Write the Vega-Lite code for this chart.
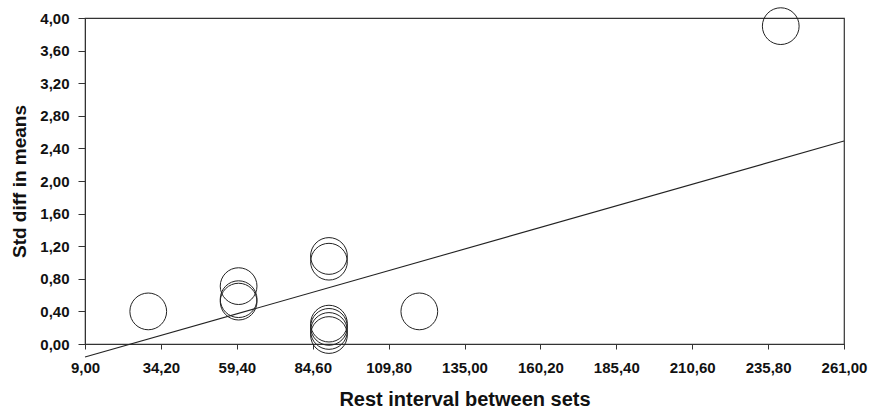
{
  "$schema": "https://vega.github.io/schema/vega-lite/v6.json",
  "autosize": "none",
  "width": 759,
  "height": 326,
  "padding": {"left": 85, "top": 18, "right": 27, "bottom": 66},
  "background": "white",
  "config": {
    "view": {"stroke": "#333", "strokeWidth": 1.2},
    "font": "Liberation Sans",
    "axis": {
      "labelFont": "Liberation Sans",
      "labelFontWeight": "bold",
      "labelFontSize": 15,
      "labelColor": "#111",
      "titleFont": "Liberation Sans",
      "titleFontWeight": "bold",
      "titleColor": "#111",
      "domainColor": "#333",
      "tickColor": "#333",
      "grid": false
    }
  },
  "datasets": {
    "studies": [
      {"rest": 30, "smd": 0.40},
      {"rest": 60, "smd": 0.71},
      {"rest": 60, "smd": 0.55},
      {"rest": 60, "smd": 0.52},
      {"rest": 90, "smd": 1.08},
      {"rest": 90, "smd": 1.01},
      {"rest": 90, "smd": 0.25},
      {"rest": 90, "smd": 0.21},
      {"rest": 90, "smd": 0.16},
      {"rest": 90, "smd": 0.11},
      {"rest": 120, "smd": 0.40},
      {"rest": 240, "smd": 3.90}
    ],
    "fit": [
      {"rest": 9, "smd": -0.16},
      {"rest": 261, "smd": 2.49}
    ]
  },
  "layer": [
    {
      "data": {"name": "fit"},
      "mark": {"type": "line", "color": "#222", "strokeWidth": 1.1, "clip": false},
      "encoding": {
        "x": {"field": "rest", "type": "quantitative"},
        "y": {"field": "smd", "type": "quantitative"}
      }
    },
    {
      "data": {"name": "studies"},
      "mark": {"type": "point", "shape": "circle", "filled": false, "size": 1350, "color": "#222", "strokeWidth": 1, "opacity": 1, "clip": false},
      "encoding": {
        "x": {
          "field": "rest", "type": "quantitative",
          "scale": {"domain": [9, 261], "nice": false, "zero": false},
          "axis": {
            "title": "Rest interval between sets",
            "titleFontSize": 20,
            "values": [9, 34.2, 59.4, 84.6, 109.8, 135, 160.2, 185.4, 210.6, 235.8, 261],
            "tickCount": 20,
            "labelExpr": "replace(format(datum.value, '.2f'), '.', ',')",
            "tickSize": 5,
            "labelPadding": 11,
            "titlePadding": 14,
            "labelFlush": false,
            "labelOverlap": false
          }
        },
        "y": {
          "field": "smd", "type": "quantitative",
          "scale": {"domain": [0, 4], "nice": false, "zero": false},
          "axis": {
            "title": "Std diff in means",
            "titleFontSize": 19,
            "values": [0, 0.4, 0.8, 1.2, 1.6, 2.0, 2.4, 2.8, 3.2, 3.6, 4.0],
            "tickCount": 20,
            "labelExpr": "replace(format(datum.value, '.2f'), '.', ',')",
            "tickSize": 7,
            "labelPadding": 9,
            "titlePadding": 10,
            "labelFlush": false,
            "labelOverlap": false
          }
        }
      }
    }
  ]
}
